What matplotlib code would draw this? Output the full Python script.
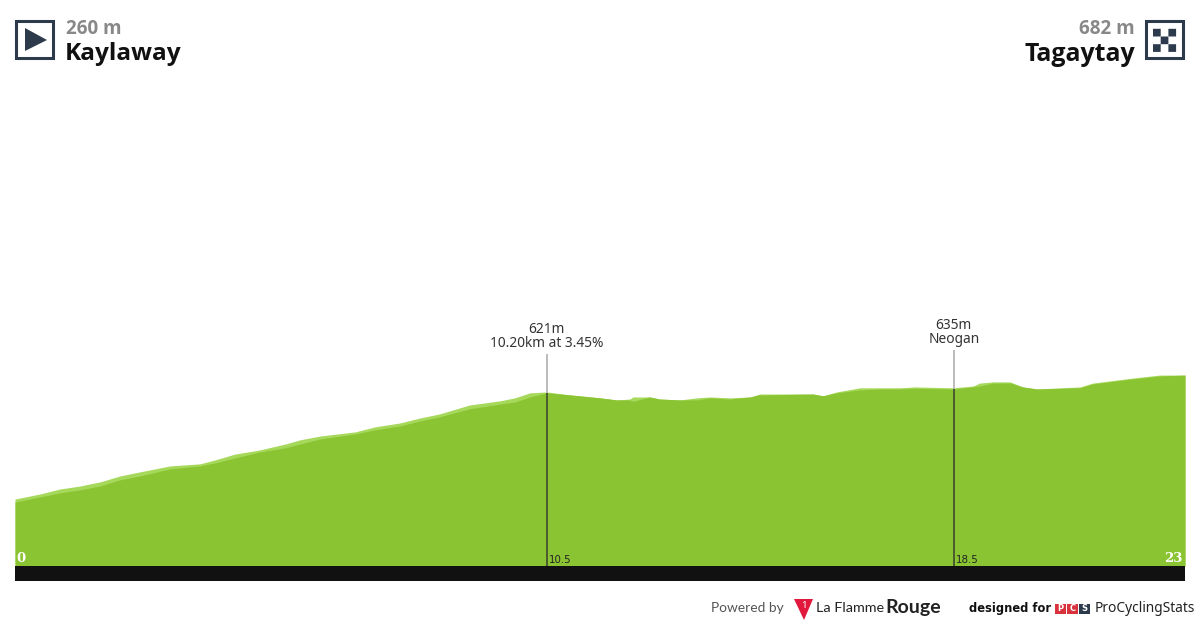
import matplotlib
matplotlib.use("Agg")
import matplotlib.pyplot as plt
from matplotlib.patches import Rectangle, Polygon

km = [0, .49, .89, 1.28, 1.68, 2.07, 2.47, 3.06, 3.65, 3.94, 4.34, 4.83, 5.33, 5.62, 6.02, 6.71,
      7.10, 7.59, 7.99, 8.38, 8.97, 9.57, 9.86, 10.16, 10.49, 10.95, 11.54, 11.87, 12.13, 12.19,
      12.52, 12.72, 13.12, 13.45, 13.71, 14.10, 14.50, 14.69, 15.74, 15.94, 16.21, 16.67, 17.06,
      17.46, 17.75, 18.50, 18.90, 19.03, 19.29, 19.63, 19.88, 20.16, 21.01, 21.26, 22.05, 22.58, 23.08]
elev_light = [263, 280, 297, 307, 321, 341, 355, 375, 382, 395, 415, 429, 449, 463, 476, 490,
              507, 520, 537, 551, 581, 595, 605, 622, 625, 615, 605, 598, 601, 608,
              608, 601, 598, 605, 608, 605, 608, 618, 618, 612, 625, 639, 639,
              639, 642, 639, 645, 655, 659, 659, 642, 635, 642, 655, 672, 682, 682]
elev_dark = [253, 270, 284, 294, 307, 328, 341, 365, 375, 385, 402, 422, 436, 449, 466, 483,
             497, 510, 527, 541, 568, 584, 591, 608, 622, 615, 605, 598, 598, 593,
             608, 601, 598, 598, 605, 601, 608, 615, 618, 612, 622, 632, 635,
             635, 637, 635, 642, 645, 655, 655, 642, 635, 639, 652, 669, 679, 682]
climb_km = [10.49, 18.52]
climb_elev = [622, 635]
climb_labels = ["621m\n10.20km at 3.45%", "635m\nNeogan"]
climb_ticks = ["10.5", "18.5"]
start_name, start_alt = "Kaylaway", "260 m"
end_name, end_alt = "Tagaytay", "682 m"
BASE, BOTTOM, TOP = 37, -14, 1000
LIGHT, DARK, INK, NAVY = "#A6D95B", "#8BC432", "#111111", "#2C3A4B"
SANS = ["Noto Sans", "DejaVu Sans"]
HEAD = ["Open Sans", "DejaVu Sans"]

fig = plt.figure(figsize=(12, 6.25), dpi=100, facecolor="white")
ax = fig.add_axes([15/1200, 44/625, 1170/1200, 300/625])
ax.set_xlim(0, 23.08)
ax.set_ylim(BOTTOM, TOP)
ax.axis("off")
ax.fill_between(km, BASE, elev_light, color=LIGHT, lw=0, zorder=1)
ax.fill_between(km, BASE, elev_dark, color=DARK, lw=0, zorder=2)
ax.fill_between([0, 23.08], BOTTOM, BASE, color=INK, lw=0, zorder=3)

for x, e, label, tick, top in zip(climb_km, climb_elev, climb_labels, climb_ticks, [753, 767]):
    ax.plot([x, x], [BASE, e], color="#46522E", lw=1.3, zorder=4, solid_capstyle="butt")
    ax.plot([x, x], [e, top], color="#B5B5B5", lw=1.3, zorder=4, solid_capstyle="butt")
    ax.text(x, top + 11, label, ha="center", va="bottom", fontsize=9.9, color="#333333",
            family=SANS, linespacing=0.9)
    ax.text(x + 0.05, BASE + 2, tick, ha="left", va="bottom", fontsize=7.4, color="#222222",
            family="DejaVu Sans")
ax.text(0.03, BASE + 3, "0", ha="left", va="bottom", fontsize=9.5, color="white",
        family="DejaVu Serif", weight="bold")
ax.text(23.08 - 0.05, BASE + 3, "23", ha="right", va="bottom", fontsize=9.5, color="white",
        family="DejaVu Serif", weight="bold")

# header and footer, placed in pixel coordinates
ov = fig.add_axes([0, 0, 1, 1], zorder=5)
ov.set_xlim(0, 1200)
ov.set_ylim(625, 0)
ov.axis("off")
ov.patch.set_alpha(0)
for x0 in (16, 1146):
    ov.add_patch(Rectangle((x0, 21), 37, 37, fc="white", ec=NAVY, lw=2.2))
ov.add_patch(Polygon([(25, 28), (47, 40), (25, 51)], fc=NAVY, ec="none"))
for row in range(3):
    for col in range(3):
        if (row + col) % 2 == 0:
            ov.add_patch(Rectangle((1153 + col * 7.7, 28.8 + row * 7.7), 7.7, 7.7, fc=NAVY, ec="none", snap=False))

ov.text(66, 29.5, start_alt, ha="left", va="center", fontsize=13.6, weight="bold", color="#888888", family=HEAD)
ov.text(65, 54.5, start_name, ha="left", va="center", fontsize=17.6, weight="bold", color=INK, family=HEAD)
ov.text(1135, 29.5, end_alt, ha="right", va="center", fontsize=13.6, weight="bold", color="#888888", family=HEAD)
ov.text(1135, 54.5, end_name, ha="right", va="center", fontsize=17.9, weight="bold", color=INK, family=HEAD)

ov.text(711, 608, "Powered by", ha="left", va="center", fontsize=9.9, color="#555555", family="Lato")
ov.add_patch(Polygon([(794, 599), (813, 599), (804, 620)], fc="#E2173C", ec="none"))
ov.text(803.5, 605, "1", ha="center", va="center", fontsize=7, color="white", weight="bold", family=SANS)
ov.text(816, 608, "La Flamme", ha="left", va="center", fontsize=10.4, color="#222222", family="Lato")
ov.text(885, 608, "Rouge", ha="left", va="center", fontsize=14, color="#222222", weight="bold", family="Lato")
ov.text(969, 608.5, "designed for", ha="left", va="center", fontsize=8.3, color=INK, family="DejaVu Sans", weight="bold")
for x0, c, ch in zip((1055, 1067, 1079), ("#D8323C", "#D8323C", NAVY), "PCS"):
    ov.add_patch(Rectangle((x0, 603.5), 11, 10, fc=c, ec="none"))
    ov.text(x0 + 5.5, 608.7, ch, ha="center", va="center", fontsize=6, color="white", weight="bold", family="DejaVu Sans")
ov.text(1095, 608, "ProCyclingStats", ha="left", va="center", fontsize=9.9, color="#222222", family="Noto Sans")

fig.savefig("out.png", dpi=100, facecolor="white")
